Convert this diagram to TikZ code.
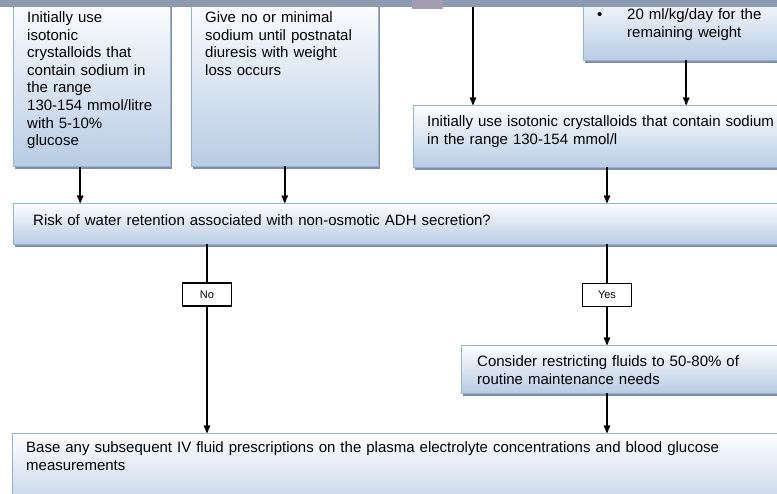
\documentclass[tikz,border=0pt]{standalone}
\usepackage{fontspec}
\setmainfont{Liberation Sans}
\usetikzlibrary{calc,positioning,arrows,shapes,shadows}
\definecolor{boxline}{RGB}{149,179,215}
\definecolor{boxfill}{RGB}{184,204,228}
\definecolor{boxshadow}{RGB}{128,142,164}
\definecolor{barcolor}{RGB}{141,155,176}
\definecolor{tabcolor}{RGB}{162,156,176}
\tikzset{
>=stealth',
}
\begin{document}
\begin{tikzpicture}[x=1pt,y=-1pt]
  \tikzset{
      action/.style={rectangle,draw=boxline,thin, top color=white, bottom color=boxfill,
        drop shadow={shadow xshift=2pt,shadow yshift=-3pt,fill=boxshadow,opacity=1},
        align=left, inner xsep=14pt, inner ysep=0pt, anchor=base west,
        font=\fontsize{15}{17.6}\selectfont},
      answer/.style={rectangle,draw=black,line width=1.5pt,fill=white, minimum width=49pt, minimum height=23pt, inner sep=0pt, font=\fontsize{11}{12}\selectfont},
      myline/.style={draw,line width=1.6pt},
      myarrow/.style={myline,->},
  }
  \useasboundingbox (0,0) rectangle (777,494);
  \clip (0,0) rectangle (777,494);

  \node[action, text width=129pt, text height=27pt, text depth=144pt] (item1) at (13,22.5) {Initially use\\isotonic\\crystalloids that\\contain sodium in\\the range\\130-154 mmol/litre\\with 5-10\%\\glucose};
  \node[action, text width=159pt, text height=28pt, text depth=143.5pt] (item2) at (191,22.5) {Give no or minimal\\sodium until postnatal\\diuresis with weight\\loss occurs};
  \node[action, text width=189pt, text height=30pt, text depth=40pt] (item3) at (583,20) {\makebox[30pt][l]{\textbullet}20 ml/kg/day for the\\\hspace*{30pt}remaining weight};
  \node[action, text width=359pt, text height=22pt, text depth=40pt] (item4) at (413,127) {Initially use isotonic crystalloids that contain sodium\\in the range 130-154 mmol/l};

  \node[action, inner xsep=20pt, text width=747pt, text height=23pt, text depth=18pt] (item5) at (13,226) {Risk of water retention associated with non-osmotic ADH secretion?};
    \node[answer] (item6) at (207,294.5) {No};
    \node[answer] (item7) at (607,295) {Yes};
    \node[action, inner xsep=16pt, text width=307pt, text height=22pt, text depth=26pt] (item8) at (461,367) {Consider restricting fluids to 50-80\% of\\routine maintenance needs};
  \node[action, text width=760pt, text height=20pt, text depth=67pt] (item9) at (12,453) {Base any subsequent IV fluid prescriptions on the plasma electrolyte concentrations and blood glucose\\measurements};

  \coordinate (AuxNode01) at (473,7);
  \coordinate (AuxNode02) at ($(item1.south)+(-11.5,0)$);
  \coordinate (AuxNode03) at ($(item3.south)+(-5.5,0)$);

  \path[myarrow] (AuxNode02) -- (AuxNode02 |- item5.north);
  \path[myarrow] (item2.south) -- (item2.south |- item5.north);
  \path[myarrow] (AuxNode01) -- (AuxNode01 |- item4.north);
  \path[myarrow] (AuxNode03) -- (AuxNode03 |- item4.north);
  \path[myarrow] (item4.south -| item7.north) -- (item7.north |- item5.north);
  \path[myline] (item5.south -| item6.north) -- (item6.north);
  \path[myarrow] (item6.south) -- (item6.south |- item9.north);
  \path[myline] (item5.south -| item7.north) -- (item7.north);
  \path[myarrow] (item7.south) -- (item7.south |- item8.north);
  \path[myarrow] (item8.south -| item7.south) -- (item7.south |- item9.north);

  \fill[barcolor] (0,0) rectangle (777,7);
  \fill[tabcolor] (412,0) rectangle (443,9);
\end{tikzpicture}
\end{document}
